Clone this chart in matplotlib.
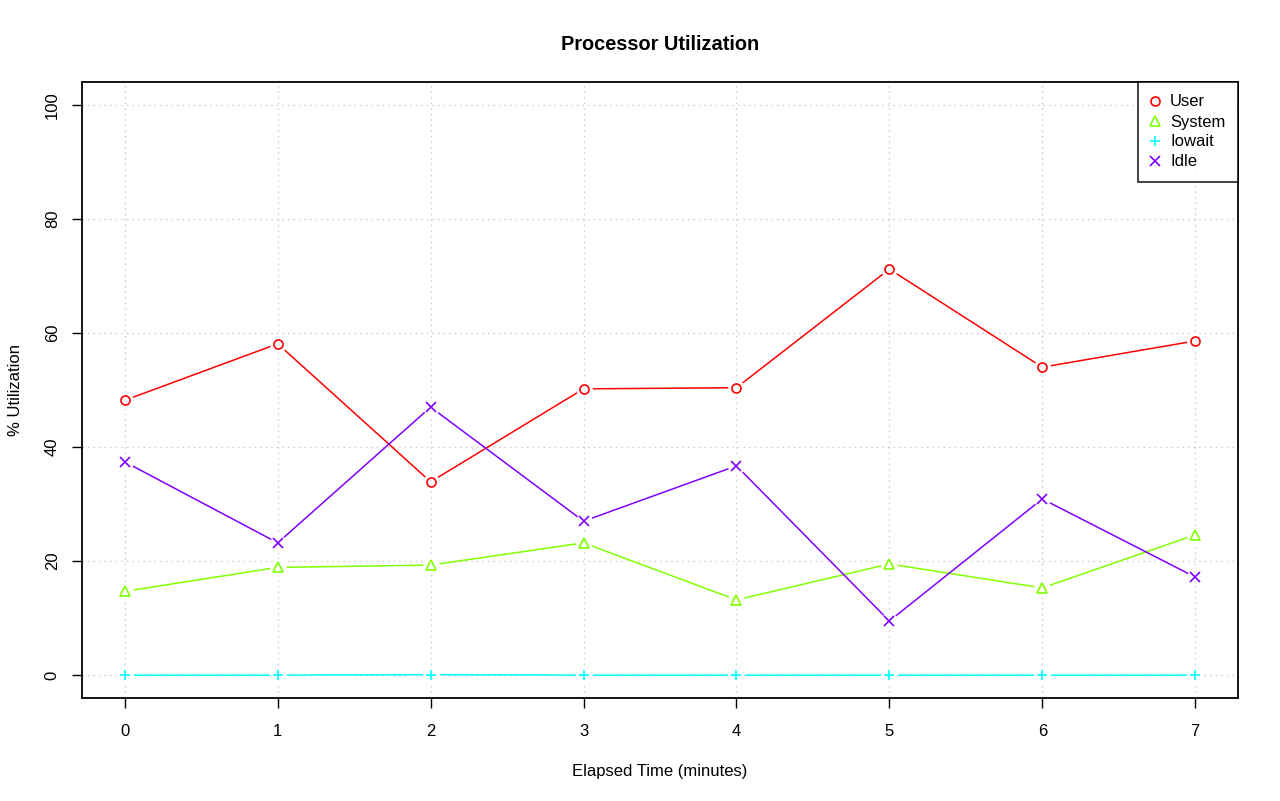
import matplotlib
matplotlib.use("Agg")
import matplotlib.pyplot as plt

plt.rcParams['font.family'] = ['Liberation Sans', 'DejaVu Sans']

minutes = [0, 1, 2, 3, 4, 5, 6, 7]
user = [48.2, 58.1, 33.9, 50.2, 50.4, 71.2, 54.0, 58.6]
system = [14.7, 18.9, 19.3, 23.2, 13.2, 19.5, 15.3, 24.6]
iowait = [0.0, 0.0, 0.1, 0.0, 0.0, 0.0, 0.0, 0.0]
idle = [37.4, 23.2, 47.0, 27.0, 36.7, 9.5, 30.9, 17.2]
series_names = ["User", "System", "Iowait", "Idle"]
colors = ["#FF0000", "#80FF00", "#00FFFF", "#8000FF"]
markers = ["o", "^", "+", "x"]
yticks = [0, 20, 40, 60, 80, 100]

fig = plt.figure(figsize=(12.8, 8.01), dpi=100)
ax = fig.add_axes([82/1280, 1 - 698/801, (1238-82)/1280, (698-82)/801])

ax.set_xlim(-0.28, 7.28)
ax.set_ylim(-4, 104)

# grid
for x in minutes:
    ax.axvline(x, color="#C8C8C8", lw=1.0, ls=(0, (1, 3)), zorder=1)
for y in yticks:
    ax.axhline(y, color="#C8C8C8", lw=1.0, ls=(0, (1, 3)), zorder=1)

data = [user, system, iowait, idle]
for vals, c in zip(data, colors):
    ax.plot(minutes, vals, color=c, lw=1.1, zorder=2)
for vals in data:
    ax.plot(minutes, vals, ls="none", marker="o", ms=11, mfc="white", mec="white", zorder=3)
for vals, c, m, name in zip(data, colors, markers, series_names):
    if m in ("+", "x"):
        ax.plot(minutes, vals, ls="none", marker=m, ms=7, mew=1.2, color=c, zorder=4, label=name)
    else:
        ax.plot(minutes, vals, ls="none", marker=m, ms=6.5, mew=1.2, mfc="none", mec=c, zorder=4, label=name)

ax.set_xticks(minutes)
ax.set_yticks(yticks)
ax.tick_params(axis="both", direction="out", length=7, width=1, labelsize=12)
ax.tick_params(axis="x", pad=12)
for lab in ax.get_yticklabels():
    lab.set_rotation(90)
    lab.set_va("center")
ax.tick_params(axis="y", pad=9)
for sp in ax.spines.values():
    sp.set_linewidth(1.3)

ax.set_title("Processor Utilization", fontsize=14.4, fontweight="bold", pad=23)
ax.set_xlabel("Elapsed Time (minutes)", fontsize=12, labelpad=18)
ax.set_ylabel("% Utilization", fontsize=12, labelpad=16)

leg = ax.legend(loc="upper right", fontsize=12, frameon=True, fancybox=False,
                edgecolor="black", borderaxespad=0, handlelength=0.6,
                handletextpad=0.6, labelspacing=0.3, borderpad=0.75)
leg.get_frame().set_linewidth(1.3)

fig.savefig("out.png", dpi=100)
